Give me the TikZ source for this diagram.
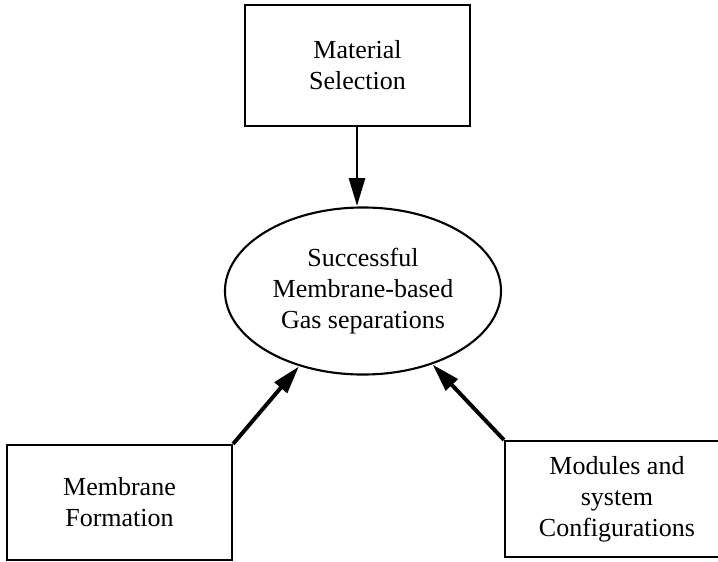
\documentclass[tikz,border=0pt]{standalone}
\usepackage{fontspec}
\setmainfont{Liberation Serif}
\usepackage{tikz}
\usetikzlibrary{arrows.meta,shapes.geometric}

\begin{document}
\begin{tikzpicture}[x=0.025cm, y=-0.025cm,
		box/.style={draw, line width=1.5pt, align=center, inner sep=0pt,
			font=\fontsize{18.5}{22}\selectfont},
		link/.style={line width=2pt, -{Triangle[length=7mm, width=4mm]}, shorten >=0.3pt}]
			%%%%% START %%%%%
			
			\useasboundingbox (0, 0) rectangle (718, 561);
			\clip (0, 0) rectangle (718, 561);
			
			\node[box, minimum width=5.625cm, minimum height=3.025cm] (sel) at (357.5, 65.5) {Material\\Selection};
			
			\node[box, ellipse, minimum width=6.9cm, minimum height=4.175cm] (goal) at (363, 291) {Successful\\Membrane-based\\Gas separations};
			
			\node[box, minimum width=5.625cm, minimum height=2.875cm] (form) at (119.5, 502.5) {Membrane\\Formation};
			\node[box, minimum width=5.6cm, minimum height=2.9cm] (mods) at (617, 499) {Modules and\\system\\Configurations};
			
			\draw[link] (sel.south -| goal.north) ++(-6, 0) coordinate (selout) -- (selout |- goal.north);
			\draw[link, line width=2.8pt] (form.north east) -- (goal);
			\draw[link, line width=2.8pt] (mods.north west) -- (goal);
			
			%%%%% END %%%%%
		\end{tikzpicture}
\end{document}
